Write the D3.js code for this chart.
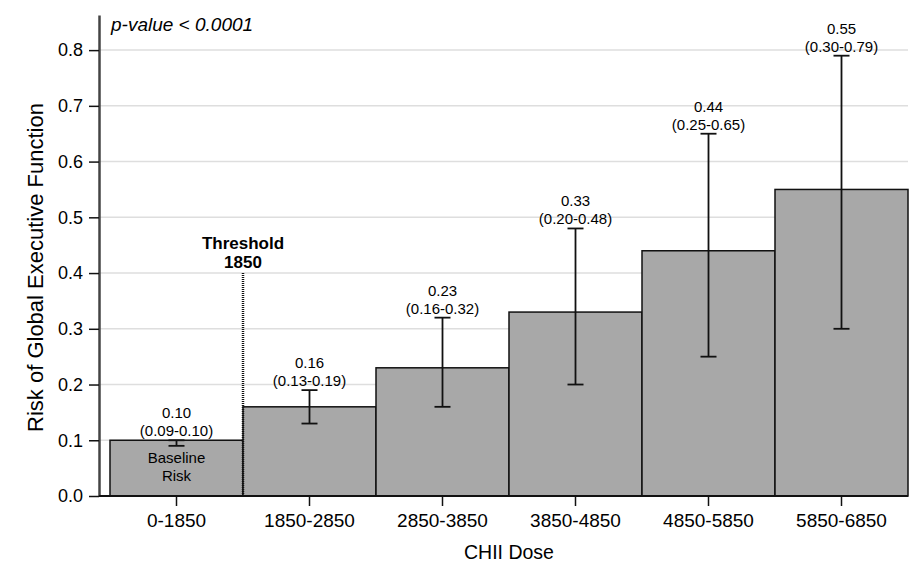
<!DOCTYPE html>
<html>
<head>
<meta charset="utf-8">
<script src="https://cdn.jsdelivr.net/npm/d3@7"></script>
<style>
  body { margin: 0; background: #fff; }
  svg { font-family: "Liberation Sans", Arial, sans-serif; display: block; }
  .axis text { fill: #000; }
</style>
</head>
<body>
<svg id="chart"></svg>
<script>
// data
const doseGroups = ['0-1850', '1850-2850', '2850-3850', '3850-4850', '4850-5850', '5850-6850'];
const riskValues = [0.10, 0.16, 0.23, 0.33, 0.44, 0.55];
const lowerCI = [0.09, 0.13, 0.16, 0.20, 0.25, 0.30];
const upperCI = [0.10, 0.19, 0.32, 0.48, 0.65, 0.79];
const yTicks = [0, 0.1, 0.2, 0.3, 0.4, 0.5, 0.6, 0.7, 0.8];
const thresholdLabel = ['Threshold', '1850'];
const thresholdRisk = 0.40;
const baselineLabel = ['Baseline', 'Risk'];

class RiskBars {

  constructor(_config, _data) {
    this.config = {
      parentElement: _config.parentElement,
      containerWidth: _config.containerWidth || 909,
      containerHeight: _config.containerHeight || 572,
      margin: { top: 15, bottom: 76, right: 1, left: 99 }
    }
    this.data = _data;
    this.initVis();
  }

  initVis() {
    let vis = this;

    vis.width = vis.config.containerWidth - vis.config.margin.left - vis.config.margin.right;
    vis.height = vis.config.containerHeight - vis.config.margin.top - vis.config.margin.bottom;

    vis.svg = d3.select(vis.config.parentElement)
        .attr('width', vis.config.containerWidth)
        .attr('height', vis.config.containerHeight);

    vis.chart = vis.svg.append('g')
        .attr('transform', `translate(${vis.config.margin.left},${vis.config.margin.top})`);

    // bars start a bit right of the y axis
    vis.xScale = d3.scaleBand()
        .domain(doseGroups)
        .range([11, vis.width])
        .padding(0);

    vis.yScale = d3.scaleLinear()
        .domain([0, 0.863])
        .range([vis.height, 0]);

    // gridlines
    vis.chart.append('g')
      .selectAll('line')
      .data(yTicks.slice(1))
      .join('line')
        .attr('x1', 0)
        .attr('x2', vis.width)
        .attr('y1', d => vis.yScale(d))
        .attr('y2', d => vis.yScale(d))
        .attr('stroke', '#dedede')
        .attr('stroke-width', 1.5);

    // bars
    vis.chart.selectAll('.bar')
      .data(vis.data)
      .join('rect')
        .attr('class', 'bar')
        .attr('x', d => vis.xScale(d.group))
        .attr('width', vis.xScale.bandwidth())
        .attr('y', d => vis.yScale(d.value))
        .attr('height', d => vis.height - vis.yScale(d.value))
        .attr('fill', '#a8a8a8')
        .attr('stroke', '#111')
        .attr('stroke-width', 1.5);

    // threshold line
    let tx = vis.xScale(doseGroups[1]);
    vis.chart.append('line')
        .attr('x1', tx).attr('x2', tx)
        .attr('y1', vis.yScale(thresholdRisk))
        .attr('y2', vis.height)
        .attr('stroke', '#111')
        .attr('stroke-width', 2.5)
        .attr('stroke-dasharray', '1,1');

    vis.chart.append('text')
        .attr('x', tx)
        .attr('y', vis.yScale(thresholdRisk) - 5)
        .attr('text-anchor', 'middle')
        .style('font-size', '17px')
        .style('font-weight', 'bold')
        .selectAll('tspan')
        .data(thresholdLabel)
        .join('tspan')
          .attr('x', tx)
          .attr('dy', (d, i) => i === 0 ? -19 : 19)
          .text(d => d);

    // error bars
    let cap = 8;
    let err = vis.chart.append('g')
        .attr('stroke', '#111')
        .attr('stroke-width', 1.8);
    let cx = d => vis.xScale(d.group) + vis.xScale.bandwidth() / 2;

    err.selectAll('.whisker')
      .data(vis.data)
      .join('line')
        .attr('x1', cx).attr('x2', cx)
        .attr('y1', d => vis.yScale(d.lower))
        .attr('y2', d => vis.yScale(d.upper));
    err.selectAll('.capLow')
      .data(vis.data)
      .join('line')
        .attr('x1', d => cx(d) - cap).attr('x2', d => cx(d) + cap)
        .attr('y1', d => vis.yScale(d.lower))
        .attr('y2', d => vis.yScale(d.lower));
    err.selectAll('.capHigh')
      .data(vis.data)
      .join('line')
        .attr('x1', d => cx(d) - cap).attr('x2', d => cx(d) + cap)
        .attr('y1', d => vis.yScale(d.upper))
        .attr('y2', d => vis.yScale(d.upper));

    // value labels
    let fmt = d3.format('.2f');
    vis.chart.selectAll('.val')
      .data(vis.data)
      .join('text')
        .attr('x', cx)
        .attr('y', d => vis.yScale(d.upper) - 22)
        .attr('text-anchor', 'middle')
        .style('font-size', '15px')
        .text(d => fmt(d.value));
    vis.chart.selectAll('.ci')
      .data(vis.data)
      .join('text')
        .attr('x', cx)
        .attr('y', d => vis.yScale(d.upper) - 4)
        .attr('text-anchor', 'middle')
        .style('font-size', '15px')
        .text(d => `(${fmt(d.lower)}-${fmt(d.upper)})`);

    // baseline risk note inside first bar
    vis.chart.append('text')
        .attr('text-anchor', 'middle')
        .style('font-size', '15px')
        .selectAll('tspan')
        .data(baselineLabel)
        .join('tspan')
          .attr('x', cx(vis.data[0]))
          .attr('y', (d, i) => vis.yScale(riskValues[0]) + 23 + i * 18)
          .text(d => d);

    // axes
    vis.yAxis = d3.axisLeft(vis.yScale)
        .tickValues(yTicks)
        .tickFormat(d3.format('.1f'))
        .tickSize(10)
        .tickSizeOuter(0)
        .tickPadding(6);
    vis.yAxisG = vis.chart.append('g')
        .attr('class', 'axis y-axis')
        .call(vis.yAxis);
    vis.yAxisG.selectAll('text').style('font-size', '18px');
    vis.yAxisG.selectAll('line').attr('stroke', '#111').attr('stroke-width', 1.5);
    vis.yAxisG.select('.domain').attr('stroke', '#444').attr('stroke-width', 2.5);

    vis.xAxis = d3.axisBottom(vis.xScale)
        .tickSize(10)
        .tickSizeOuter(0)
        .tickPadding(8);
    vis.xAxisG = vis.chart.append('g')
        .attr('class', 'axis x-axis')
        .attr('transform', `translate(0,${vis.height})`)
        .call(vis.xAxis);
    vis.xAxisG.select('.domain').remove();
    vis.xAxisG.selectAll('text').style('font-size', '19px');
    vis.xAxisG.selectAll('line').attr('stroke', '#111').attr('stroke-width', 1.5);
    vis.chart.append('line')
        .attr('x1', 0).attr('x2', vis.width)
        .attr('y1', vis.height).attr('y2', vis.height)
        .attr('stroke', '#111')
        .attr('stroke-width', 2);

    // titles
    vis.chart.append('text')
        .attr('text-anchor', 'middle')
        .attr('x', (11 + vis.width) / 2)
        .attr('y', vis.height + 63)
        .style('font-size', '19.5px')
        .text('CHII Dose');

    vis.chart.append('text')
        .attr('text-anchor', 'middle')
        .attr('transform', 'rotate(-90)')
        .attr('x', -(vis.height / 2 + 12))
        .attr('y', -vis.config.margin.left + 43)
        .style('font-size', '22px')
        .text('Risk of Global Executive Function');

    vis.chart.append('text')
        .attr('x', 12)
        .attr('y', 16)
        .style('font-size', '19px')
        .style('font-style', 'italic')
        .text('p-value < 0.0001');
  }
}

const rows = doseGroups.map((g, i) => ({
  group: g, value: riskValues[i], lower: lowerCI[i], upper: upperCI[i]
}));

new RiskBars({ parentElement: '#chart' }, rows);
</script>
</body>
</html>
